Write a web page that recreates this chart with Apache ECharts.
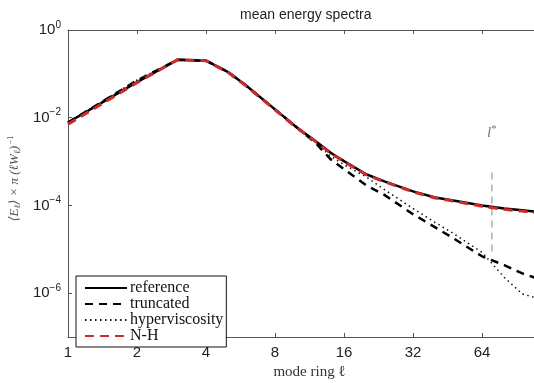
<!DOCTYPE html>
<html>
<head>
<meta charset="utf-8">
<script src="https://cdn.jsdelivr.net/npm/echarts@6/dist/echarts.min.js"></script>
<style>html,body{margin:0;padding:0;background:#fff;}#c{width:534px;height:383px;}</style>
</head>
<body>
<div id="c"></div>
<script>
// mode ring values (x)
const modes = [1, 2, 3, 4, 5, 6, 8, 10, 12, 14, 16, 20, 24, 32, 40, 48, 64, 80, 96, 128];
// log10 of spectra
const referenceLog =      [-2.11, -1.19, -0.68, -0.70, -0.96, -1.27, -1.81, -2.23, -2.53, -2.80, -2.99, -3.29, -3.45, -3.68, -3.82, -3.89, -4.00, -4.07, -4.11, -4.18];
const truncatedLog =      [-2.11, -1.15, -0.68, -0.70, -0.96, -1.27, -1.81, -2.23, -2.57, -2.95, -3.17, -3.54, -3.76, -4.20, -4.50, -4.75, -5.16, -5.36, -5.55, -5.77];
const hyperviscosityLog = [-2.11, -1.14, -0.68, -0.70, -0.96, -1.27, -1.81, -2.23, -2.55, -2.88, -3.07, -3.35, -3.64, -4.07, -4.39, -4.64, -5.07, -5.64, -6.02, -6.20];
const nhLog =             [-2.15, -1.20, -0.68, -0.70, -0.97, -1.28, -1.82, -2.24, -2.54, -2.81, -3.00, -3.30, -3.46, -3.69, -3.83, -3.90, -4.02, -4.09, -4.13, -4.21];
// l* marker
const lStar = 70.7;
const lStarLineLog = [-3.25, -5.05];
const lStarLabelLog = -2.34;
// tick labels
const xTicks = [1, 2, 4, 8, 16, 32, 64, 128];
const yTickExps = [0, -2, -4, -6];

const pts = (arr) => modes.map((m, i) => [m, Math.pow(10, arr[i])]);

const chart = echarts.init(document.getElementById('c'), null, {renderer: 'canvas'});
const axisColor = '#555';
const sans = 'Liberation Sans, Arial, sans-serif';
const serif = 'Liberation Serif, DejaVu Serif, serif';

chart.setOption({
  animation: false,
  backgroundColor: '#fff',
  title: {
    text: 'mean energy spectra',
    left: 235, top: 3,
    textStyle: {fontFamily: sans, fontSize: 14, fontWeight: 'normal', color: '#222'}
  },
  grid: {left: 68, top: 30, right: -17, bottom: 46, containLabel: false, outerBoundsMode: 'none'},
  legend: {
    orient: 'vertical',
    left: 76, top: 276,
    data: ['reference', 'truncated', 'hyperviscosity', 'N-H'],
    itemWidth: 42, itemHeight: 10, itemGap: 0,
    padding: [4, 3, 3, 8],
    borderColor: '#111', borderWidth: 1, borderRadius: 0,
    backgroundColor: '#fff',
    itemStyle: {opacity: 0},
    textStyle: {fontFamily: serif, fontSize: 16, color: '#111', lineHeight: 12, padding: [0, 0, 0, -2]}
  },
  xAxis: [{
    type: 'log', logBase: 2, min: 1, max: 128,
    position: 'bottom',
    name: 'mode ring \u2113', nameLocation: 'middle', nameGap: 25,
    nameTextStyle: {fontFamily: serif, fontSize: 15, color: '#333'},
    axisLine: {lineStyle: {color: axisColor, width: 1}},
    axisTick: {inside: true, length: 4, lineStyle: {color: axisColor}, customValues: xTicks},
    axisLabel: {customValues: xTicks, fontFamily: sans, fontSize: 15, color: '#222', margin: 8,
      formatter: v => String(Math.round(v))},
    splitLine: {show: false}, minorTick: {show: false}
  }, {
    type: 'log', logBase: 2, min: 1, max: 128,
    position: 'top',
    axisLine: {lineStyle: {color: axisColor, width: 1}},
    axisTick: {inside: true, length: 4, lineStyle: {color: axisColor}, customValues: xTicks},
    axisLabel: {show: false},
    splitLine: {show: false}
  }],
  yAxis: {
    type: 'log', logBase: 10, min: 1e-7, max: 1,
    name: '{t|\u27E8E}{sub|\u2113}{t|\u27E9 \u00D7 \u03C0 (\u2113W}{sub|\u2113}{t|)}{sup|\u22121}',
    nameLocation: 'middle', nameGap: 44, nameRotate: 90,
    nameTextStyle: {
      color: '#555',
      padding: [0, 0, 0, 10],
      rich: {
        t: {fontFamily: serif, fontStyle: 'italic', fontSize: 13, color: '#555'},
        sub: {fontFamily: serif, fontStyle: 'italic', fontSize: 9, color: '#555', padding: [5, 0, 0, 0]},
        sup: {fontFamily: serif, fontSize: 9, color: '#555', padding: [0, 0, 8, 1]}
      }
    },
    axisLine: {show: true, lineStyle: {color: axisColor, width: 1}},
    axisTick: {inside: true, length: 4, lineStyle: {color: axisColor}, customValues: yTickExps.map(e => Math.pow(10, e))},
    axisLabel: {
      customValues: yTickExps.map(e => Math.pow(10, e)),
      margin: 7,
      formatter: v => {
        const e = Math.round(Math.log10(v));
        return '{b|10}{s|' + (e < 0 ? '\u2212' + (-e) : e) + '}';
      },
      rich: {
        b: {fontFamily: sans, fontSize: 15, color: '#222'},
        s: {fontFamily: sans, fontSize: 10, color: '#222', padding: [0, 0, 10, 0]}
      }
    },
    splitLine: {show: false}, minorTick: {show: false}
  },
  series: [
    {name: 'reference', type: 'line', symbol: 'none', data: pts(referenceLog), z: 3,
      lineStyle: {color: '#000', width: 2.5, type: 'solid'}, itemStyle: {color: '#000'}},
    {name: 'truncated', type: 'line', symbol: 'none', data: pts(truncatedLog), z: 2,
      lineStyle: {color: '#000', width: 2.5, type: [8, 6]}, itemStyle: {color: '#000'}},
    {name: 'hyperviscosity', type: 'line', symbol: 'none', data: pts(hyperviscosityLog), z: 2,
      lineStyle: {color: '#111', width: 1.5, type: [1.5, 3.5]}, itemStyle: {color: '#111'}},
    {name: 'N-H', type: 'line', symbol: 'none', data: pts(nhLog), z: 4,
      lineStyle: {color: '#cc2b2b', width: 3, type: [9, 6]}, itemStyle: {color: '#cc2b2b'}},
    {name: 'lstar', type: 'line', symbol: 'none', silent: true, z: 1,
      data: lStarLineLog.map(e => [lStar, Math.pow(10, e)]),
      lineStyle: {color: '#888', width: 1, type: [7, 5]}},
    {name: 'lstarLabel', type: 'scatter', symbolSize: 0, silent: true,
      data: [[lStar, Math.pow(10, lStarLabelLog)]],
      label: {show: true, position: 'inside', formatter: '{a|l}{b|*}',
        rich: {a: {fontFamily: serif, fontStyle: 'italic', fontSize: 15, color: '#555'},
               b: {fontFamily: serif, fontSize: 11, color: '#555', padding: [0, 0, 7, 0]}}}}
  ]
});
</script>
</body>
</html>
